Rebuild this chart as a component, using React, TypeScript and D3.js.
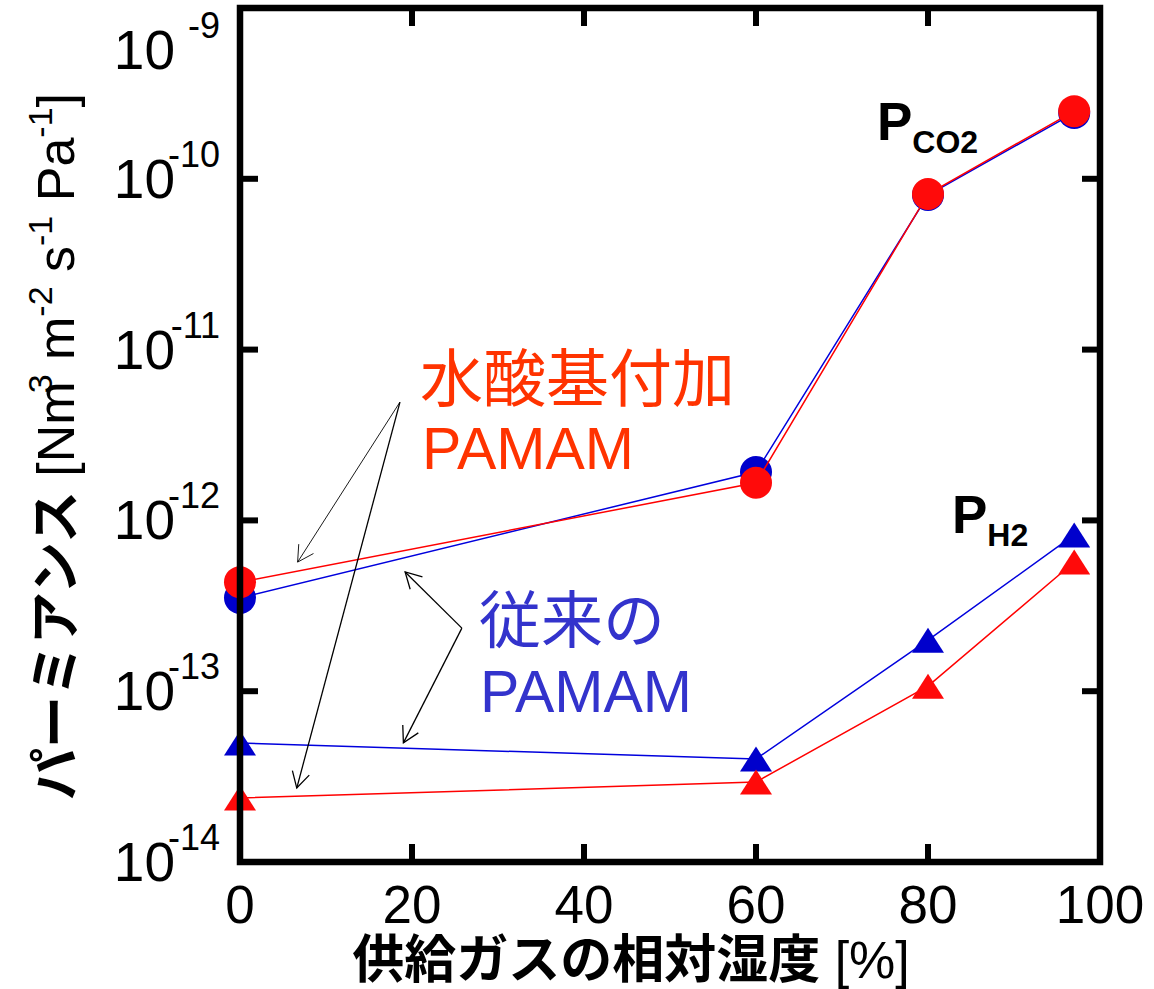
import React from "react";
import * as d3 from "d3";

const humidity = [0, 60, 80, 97];
const co2Hydroxyl = [4.35e-13, 1.66e-12, 8.15e-11, 2.49e-10];
const co2Conventional = [3.52e-13, 1.92e-12, 8.04e-11, 2.43e-10];
const h2Conventional = [4.97e-14, 4.01e-14, 1.99e-13, 8.22e-13];
const h2Hydroxyl = [2.37e-14, 2.94e-14, 1.07e-13, 5.71e-13];

const xTicks = [0, 20, 40, 60, 80, 100];
const yTickExps = [-14, -13, -12, -11, -10, -9];

// annotation arrows: tail [x, y], tip [x, y] in data units
const arrows = [
  { tail: [18.6, 4.93e-12], tip: [6.7, 5.7e-13], w: 0.9 },
  { tail: [18.6, 4.93e-12], tip: [6.6, 2.71e-14], w: 1.3 },
  { tail: [25.8, 2.34e-13], tip: [19.2, 4.99e-13], w: 1.3 },
  { tail: [25.8, 2.34e-13], tip: [19.0, 4.98e-14], w: 1.3 },
];

const W = 1154;
const H = 989;
const LATIN = "'Liberation Sans', Arial, Helvetica, sans-serif";
const CJK = "'Liberation Sans', Arial, 'Noto Sans CJK JP', sans-serif";

const RED = "#ff0a0a";
const BLUE = "#0000cc";
const RED_LINE = "#ff0000";
const BLUE_LINE = "#0000dd";

export default function App() {
  const x = d3.scaleLinear().domain([0, 100]).range([240, 1100]);
  const y = d3.scaleLog().domain([1e-14, 1e-9]).range([862, 8]);
  const line = d3
    .line<number>()
    .x((_, i) => x(humidity[i]))
    .y((d) => y(d));

  const tri = "M0,-12.5 L16,12.5 L-16,12.5 Z";

  const arrowHead = (tail: number[], tip: number[]) => {
    const tx = x(tip[0]);
    const ty = y(tip[1]);
    const sx = x(tail[0]);
    const sy = y(tail[1]);
    const a = Math.atan2(sy - ty, sx - tx);
    const len = 18;
    const da = (29 * Math.PI) / 180;
    return `M${tx + len * Math.cos(a + da)},${ty + len * Math.sin(a + da)} L${tx},${ty} L${tx + len * Math.cos(a - da)},${ty + len * Math.sin(a - da)}`;
  };

  const L = 18; // tick length
  return (
    <svg
      width={W}
      height={H}
      style={{ position: "absolute", left: 0, top: 0, background: "#fff" }}
    >
      <rect x={0} y={0} width={W} height={H} fill="#fff" />

      {/* series: conventional (blue) first, hydroxyl (red) on top */}
      <path d={line(co2Conventional) || ""} fill="none" stroke={BLUE_LINE} strokeWidth={1.5} />
      <path d={line(h2Conventional) || ""} fill="none" stroke={BLUE_LINE} strokeWidth={1.5} />
      {co2Conventional.map((v, i) => (
        <circle key={"cb" + i} cx={x(humidity[i])} cy={y(v)} r={16} fill={BLUE} />
      ))}
      {h2Conventional.map((v, i) => (
        <path key={"tb" + i} d={tri} transform={`translate(${x(humidity[i])},${y(v)})`} fill={BLUE} />
      ))}
      <path d={line(co2Hydroxyl) || ""} fill="none" stroke={RED_LINE} strokeWidth={1.5} />
      <path d={line(h2Hydroxyl) || ""} fill="none" stroke={RED_LINE} strokeWidth={1.5} />
      {co2Hydroxyl.map((v, i) => (
        <circle key={"cr" + i} cx={x(humidity[i])} cy={y(v)} r={16} fill={RED} />
      ))}
      {h2Hydroxyl.map((v, i) => (
        <path key={"tr" + i} d={tri} transform={`translate(${x(humidity[i])},${y(v)})`} fill={RED} />
      ))}

      {/* arrows */}
      {arrows.map((a, i) => (
        <g key={"ar" + i} stroke="#000" strokeWidth={a.w} fill="none">
          <line x1={x(a.tail[0])} y1={y(a.tail[1])} x2={x(a.tip[0])} y2={y(a.tip[1])} />
          <path d={arrowHead(a.tail, a.tip)} />
        </g>
      ))}

      {/* frame */}
      <rect x={240} y={8} width={860} height={854} fill="none" stroke="#000" strokeWidth={6.5} />

      {/* x ticks */}
      {xTicks.map((t) => (
        <g key={"xt" + t}>
          <line x1={x(t)} x2={x(t)} y1={862} y2={862 - L} stroke="#000" strokeWidth={6} />
          <line x1={x(t)} x2={x(t)} y1={8} y2={8 + L} stroke="#000" strokeWidth={6} />
          <text x={x(t)} y={923} textAnchor="middle" fontFamily={LATIN} fontSize={53} fill="#000">
            {t}
          </text>
        </g>
      ))}

      {/* y ticks */}
      {yTickExps.map((e) => {
        const ty = y(Math.pow(10, e));
        const by = Math.max(ty + 19, 69);
        return (
          <g key={"yt" + e}>
            <line x1={240} x2={240 + L} y1={ty} y2={ty} stroke="#000" strokeWidth={6} />
            <line x1={1100} x2={1100 - L} y1={ty} y2={ty} stroke="#000" strokeWidth={6} />
            <text x={175} y={by} textAnchor="end" fontFamily={LATIN} fontSize={55} fill="#000">
              10
            </text>
            <text x={220} y={by - 31} textAnchor="end" fontFamily={LATIN} fontSize={36} fill="#000">
              {String(e)}
            </text>
          </g>
        );
      })}

      {/* series labels */}
      <text x={877} y={140} fontFamily={LATIN} fontWeight="bold" fontSize={53} fill="#000">
        P<tspan fontSize={32} dx={0} dy={13}>CO2</tspan>
      </text>
      <text x={952} y={533} fontFamily={LATIN} fontWeight="bold" fontSize={53} fill="#000">
        P<tspan fontSize={32} dx={0} dy={13}>H2</tspan>
      </text>

      {/* annotations */}
      <text x={420} y={401} fontFamily={CJK} fontSize={63} fill="#ff3300">水酸基付加</text>
      <text x={422} y={469} fontFamily={LATIN} fontSize={59} fill="#ff3300">PAMAM</text>
      <text x={479} y={643} fontFamily={CJK} fontSize={62} fill="#3333cc">従来の</text>
      <text x={480} y={712} fontFamily={LATIN} fontSize={59} fill="#3333cc">PAMAM</text>

      {/* x axis title */}
      <text x={631} y={978} textAnchor="middle" fontFamily={CJK} fontSize={52} fontWeight="bold" fill="#000">
        供給ガスの相対湿度 <tspan fontWeight="normal">[%]</tspan>
      </text>

      {/* y axis title */}
      <g transform="translate(74,800) rotate(-90)">
        <text x={0} y={0} fontFamily={CJK} fontSize={52} fill="#000">
          <tspan fontWeight="bold">パーミアンス</tspan>
          <tspan> [Nm</tspan>
          <tspan fontSize={34} dx={-12} dy={-22}>3</tspan>
          <tspan dy={22}> m</tspan>
          <tspan fontSize={34} dy={-22}>-2</tspan>
          <tspan dy={22}> s</tspan>
          <tspan fontSize={34} dy={-22}>-1</tspan>
          <tspan dy={22}> Pa</tspan>
          <tspan fontSize={34} dy={-22}>-1</tspan>
          <tspan dy={22}>]</tspan>
        </text>
      </g>
    </svg>
  );
}
